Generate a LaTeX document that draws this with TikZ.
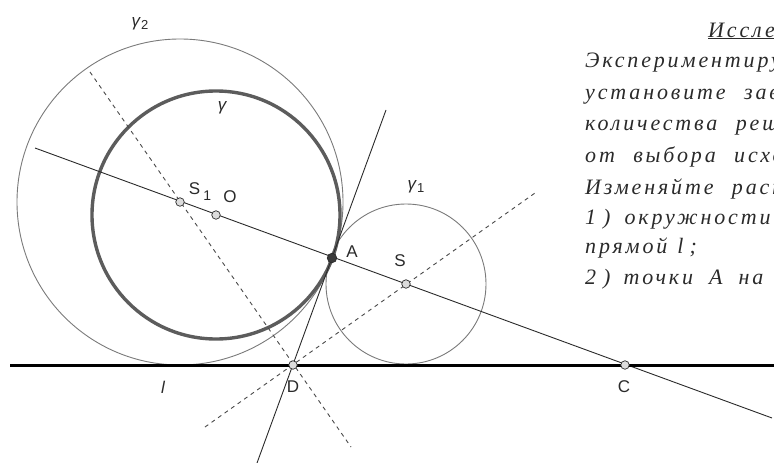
\documentclass[tikz,border=0pt]{standalone}
\usepackage{fontspec}
\setmainfont{Liberation Serif}
\newfontfamily\labelfont{Liberation Sans}
\newfontfamily\notefont[LetterSpace=13,WordSpace=2.2]{Liberation Serif}
\definecolor{ink}{HTML}{2A2A2A}
\definecolor{circgray}{HTML}{7A7A7A}
\definecolor{gammagray}{HTML}{5C5C5C}
\definecolor{ptfill}{HTML}{DCDCDC}
\definecolor{ptdark}{HTML}{3A3A3A}

\begin{document}
\begin{tikzpicture}[x=1pt,y=-1pt,
  thin line/.style={draw=ink,line width=0.9pt},
  aux/.style={draw=ink!85,line width=0.9pt,dash pattern=on 4pt off 4pt},
  circ/.style={draw=circgray,line width=0.9pt},
  pt/.style={circle,draw=ink,fill=ptfill,inner sep=0pt,minimum size=8.5pt,line width=0.7pt},
  lbl/.style={font=\labelfont\fontsize{17}{17}\selectfont,text=ink,inner sep=0pt},
  note/.style={font=\notefont\itshape\fontsize{22}{22}\selectfont,text=ink,anchor=base west,inner sep=0pt}
]
\useasboundingbox (0,0) rectangle (774,463);
\clip (0,0) rectangle (774,463);
\coordinate (O) at (216,215);
\coordinate (S1) at (180,202);
\coordinate (S) at (406,284);
\coordinate (A) at (332,258);
\coordinate (D) at (293,365);
\coordinate (C) at (625,365);
\coordinate (m1) at (35,148);
\coordinate (m2) at (772,418);
\coordinate (t1) at (386,110);
\coordinate (t2) at (257,463);
\coordinate (d1) at (90,72);
\coordinate (d2) at (351,447);
\coordinate (e1) at (205,427);
\coordinate (e2) at (535,193);
\coordinate (l1) at (10,365);
\coordinate (l2) at (774,365);

\draw[circ] (S1) circle[radius=163];
\draw[circ] (S) circle[radius=80];
\draw[draw=gammagray,line width=3.4pt] (O) circle[radius=124];

\draw[aux] (d1) -- (d2);
\draw[aux] (e1) -- (e2);
\draw[thin line] (m1) -- (m2);
\draw[thin line] (t1) -- (t2);
\draw[draw=black,line width=3pt] (l1) -- (l2);

\node[pt] (pS1) at (S1) {};
\node[pt] (pO) at (O) {};
\node[pt] (pS) at (S) {};
\node[pt] (pD) at (D) {};
\node[pt] (pC) at (C) {};
\node[pt,fill=ptdark,minimum size=9.5pt] (pA) at (A) {};

\node[lbl] (g2) at (140,24) {\itshape γ\hspace{1pt}\raisebox{-3pt}{\fontsize{13}{13}\selectfont\upshape 2}};
\node[lbl] (g) at (222,108) {\itshape γ};
\node[lbl] (g1) at (416,187) {\itshape γ\hspace{1pt}\raisebox{-3pt}{\fontsize{13}{13}\selectfont\upshape 1}};
\node[lbl] (nS1) at (200,192) {S\hspace{3pt}\raisebox{-6pt}{\fontsize{14}{14}\selectfont 1}};
\node[lbl] (nO) at (230,197) {O};
\node[lbl] (nA) at (352,252) {A};
\node[lbl] (nS) at (400,261) {S};
\node[lbl] (nl) at (163,387) {\itshape l};
\node[lbl] (nD) at (293,387) {D};
\node[lbl] (nC) at (624,387) {C};

\node[note] (title) at (708,37) {\underline{Иссле}};
\node[note] (r1) at (585,67) {Экспериментиру};
\node[note] (r2) at (585,99) {установите зав};
\node[note] (r3) at (585,130) {количества реш};
\node[note] (r4) at (585,162) {от выбора исхо};
\node[note] (r5) at (585,194) {Изменяйте раск};
\node[note] (r6) at (585,224) {1\kern7pt)\kern14pt окружности};
\node[note] (r7) at (585,253) {прямой\kern10pt \textit{l}\kern6pt;};
\node[note] (r8) at (585,284) {2\kern7pt)\kern13pt точки\kern16pt A\kern16pt на};
\end{tikzpicture}
\end{document}
